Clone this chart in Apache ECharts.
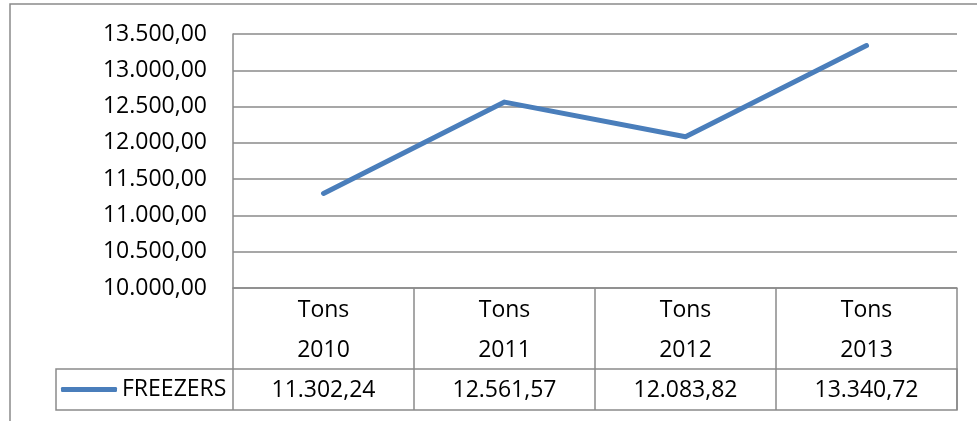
<!DOCTYPE html>
<html>
<head>
<meta charset="utf-8">
<script src="https://cdn.jsdelivr.net/npm/echarts@6/dist/echarts.min.js"></script>
<style>
  html, body { margin: 0; padding: 0; background: #fff; }
  #chart { width: 977px; height: 421px; }
</style>
</head>
<body>
<div id="chart"></div>
<script>
// data
const years = ['2010', '2011', '2012', '2013'];
const unitLabel = 'Tons';
const seriesName = 'FREEZERS';
const freezers = [11302.24, 12561.57, 12083.82, 13340.72];
const yTicks = { min: 10000, max: 13500, step: 500 };

const lineGray = '#8a8a8a';
const font = '"Open Sans", "Liberation Sans", sans-serif';

// 13500 -> "13.500,00"
const fmt = (v) => {
  const parts = Number(v).toFixed(2).split('.');
  return parts[0].replace(/\B(?=(\d{3})+(?!\d))/g, '.') + ',' + parts[1];
};

const myChart = echarts.init(document.getElementById('chart'));

const option = {
  animation: false,
  textStyle: { fontFamily: font },
  grid: { left: 233, right: 20, top: 34, bottom: 133 },
  legend: {
    data: [seriesName],
    left: 61,
    top: 378,
    padding: 0,
    icon: 'roundRect',
    itemWidth: 56,
    itemHeight: 5,
    textStyle: { color: '#000', fontSize: 23, fontFamily: font }
  },
  xAxis: [
    {
      type: 'category',
      data: years,
      boundaryGap: true,
      axisLine: { show: true, lineStyle: { color: lineGray, width: 1.5 } },
      axisTick: { show: true, interval: 0, length: 122, lineStyle: { color: lineGray, width: 1.5 } },
      axisLabel: {
        interval: 0,
        margin: 2,
        color: '#000',
        fontSize: 23,
        lineHeight: 40,
        fontFamily: font,
        formatter: (y) => unitLabel + '\n' + y
      },
      splitLine: { show: false }
    },
    {
      // data table row
      type: 'category',
      data: years,
      position: 'bottom',
      offset: 81,
      boundaryGap: true,
      axisLine: { show: false },
      axisTick: { show: false },
      axisLabel: {
        interval: 0,
        margin: 1,
        color: '#000',
        fontSize: 23,
        lineHeight: 40,
        fontFamily: font,
        formatter: (y, i) => fmt(freezers[i])
      }
    }
  ],
  yAxis: {
    type: 'value',
    min: yTicks.min,
    max: yTicks.max,
    interval: yTicks.step,
    axisLine: { show: true, lineStyle: { color: lineGray, width: 1.5 } },
    axisTick: { show: false },
    axisLabel: {
      margin: 26,
      color: '#000',
      fontSize: 23,
      fontFamily: font,
      formatter: fmt
    },
    splitLine: { show: true, lineStyle: { color: lineGray, width: 1.5 } }
  },
  series: [
    {
      name: seriesName,
      type: 'line',
      data: freezers,
      showSymbol: false,
      symbol: 'none',
      itemStyle: { color: '#4a7ebb' },
      lineStyle: { color: '#4a7ebb', width: 5, cap: 'round', join: 'round' }
    }
  ],
  graphic: [
    {
      // outer chart frame
      type: 'rect',
      shape: { x: 10, y: 4, width: 1200, height: 600 },
      style: { fill: 'none', stroke: lineGray, lineWidth: 1.5 },
      silent: true
    },
    {
      // legend/value row of the data table
      type: 'rect',
      shape: { x: 56, y: 369, width: 901, height: 41 },
      style: { fill: 'none', stroke: lineGray, lineWidth: 1.5 },
      silent: true
    }
  ]
};

myChart.setOption(option);
</script>
</body>
</html>
